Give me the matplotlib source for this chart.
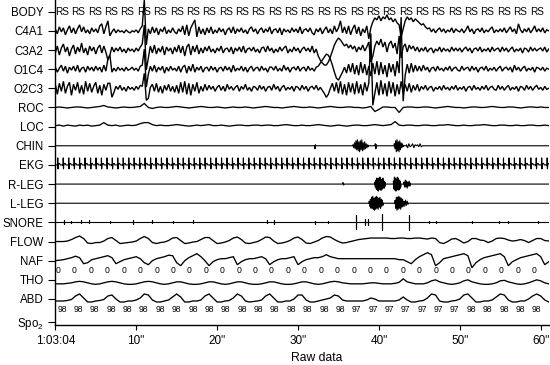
import numpy as np
import matplotlib
matplotlib.use("Agg")
import matplotlib.pyplot as plt

plt.rcParams['font.family'] = ['Liberation Sans', 'DejaVu Sans']
plt.rcParams['mathtext.fontset'] = 'custom'
plt.rcParams['mathtext.rm'] = 'Liberation Sans'

# ---------------- data ----------------
channels = ['BODY', 'C4A1', 'C3A2', 'O1C4', 'O2C3', 'ROC', 'LOC', 'CHIN', 'EKG',
            'R-LEG', 'L-LEG', 'SNORE', 'FLOW', 'NAF', 'THO', 'ABD']
x_ticks = [0, 10, 20, 30, 40, 50, 60]
x_ticklabels = ['1:03:04', '10"', '20"', '30"', '40"', '50"', '60"']

# EEG, sampled every 0.25 s, pixel deflection (up positive)
c4a1 = [2,-3,4,-1,3,-4,1,5,-2,3,-3,2,6,-1,4,-2,1,-3,3,-1,
        2,-2,5,7,-3,4,10,-5,-1,2,-2,1,-1,0,-2,1,-1,-2,0,-1,
        1,-2,2,5,31,-14,2,-3,4,-2,3,-4,2,-1,4,-3,1,-2,3,-1,
        -3,2,-1,5,-4,6,-5,3,7,11,-6,4,-3,2,-4,3,-2,4,-3,1,
        -2,3,-1,2,-4,1,3,-2,4,-3,2,-1,3,-2,1,-3,2,4,-1,2,
        -3,1,3,-2,2,-1,4,-3,1,2,-2,3,-4,2,-1,1,-2,3,-1,2,
        -2,4,-3,1,2,-1,3,-2,-4,2,-1,3,-3,1,4,-2,2,-3,5,-1,
        3,10,-2,4,-3,5,-4,2,6,-3,4,-5,2,-2,5,-8,3,9,13,11,
        15,10,14,12,16,11,13,9,12,8,6,-6,2,10,14,11,13,9,12,10,
        8,6,7,4,2,3,-1,2,-2,1,3,-1,2,-2,1,-1,3,-2,2,0,
        -1,2,-2,1,5,-1,2,-3,1,2,-1,3,-2,1,-1,2,4,-2,1,-1,
        2,-1,3,-2,1,4,-1,2,-3,7,1,-2,2,-1,3,-2,1,5,-1,2,
        -1,3,-2,1,0]
c3a2 = [-3,4,-5,2,6,-2,3,-6,1,5,-4,3,-2,7,-3,2,-5,4,-1,3,
        -4,2,5,-3,4,-2,-10,-5,3,-2,2,-1,3,-2,1,-3,2,-1,1,-2,
        2,-1,3,6,25,-20,-8,4,-3,5,-4,2,-2,4,-5,3,-1,2,-4,3,
        -2,5,-3,4,-6,3,6,-5,4,-2,5,-4,2,-3,3,-1,4,-2,1,-3,
        2,-1,4,-3,1,2,-2,3,-4,2,-1,3,-2,4,-3,1,2,-1,3,-2,
        1,-3,2,3,-2,4,-1,2,-3,1,-2,3,-1,2,4,-3,1,-2,3,-1,
        2,-3,1,3,-1,2,-2,4,-3,1,-6,-10,-13,-15,-15,-12,-7,-1,5,9,
        12,10,7,4,6,2,5,1,4,-2,3,0,5,-1,3,8,-12,-6,4,9,
        5,11,3,8,-2,6,9,2,7,-4,14,-8,3,6,-2,5,1,4,-1,3,
        -2,2,-1,3,-2,1,2,-3,1,-1,3,-2,2,-1,1,-2,3,-1,2,-1,
        2,-2,1,3,-1,2,-3,1,2,-1,3,-2,1,-1,2,-2,3,-1,1,2,
        -2,3,-1,2,-2,1,3,-2,1,-1,2,-3,2,1,-2,3,-1,2,-1,1,
        2,-1,3,-2,1]
o1c4 = [2,-3,1,4,-2,3,-4,2,-1,3,-2,4,-3,1,2,-3,3,-1,2,-2,
        3,-1,2,-3,4,-2,10,14,-3,1,-2,2,-1,1,-2,2,-1,0,2,-1,
        1,-2,3,4,20,-18,-5,3,-2,4,-3,2,-1,3,-4,2,-2,3,-1,1,
        -2,3,-3,2,4,-4,3,-2,5,-3,2,-1,3,-3,1,2,-2,3,-1,2,
        -3,1,2,-2,3,-1,2,-3,4,-2,1,-1,3,-2,2,-3,1,3,-2,1,
        2,-2,3,-1,1,-3,2,2,-1,3,-2,1,-2,4,-1,2,-3,1,2,-1,
        3,-2,1,2,-2,3,-1,1,-2,2,3,6,9,12,15,14,10,4,-3,-9,
        -11,-7,-3,2,-4,5,-3,6,-5,4,-6,7,-4,5,-6,3,-7,6,-5,8,
        -6,7,-5,4,-8,6,-3,5,-7,8,-4,52,-32,-6,5,-4,6,-3,4,-2,
        3,-2,4,-1,2,-3,1,2,-2,3,-1,1,-2,2,-1,3,-2,1,2,-1,
        -2,3,-1,1,2,-2,3,-1,2,-3,1,2,-1,3,-2,1,-1,2,-2,1,
        3,-2,1,2,-1,2,-3,4,-1,2,-2,1,3,-2,1,-1,2,-3,2,1,
        -1,2,-2,1,0]
o2c3 = [4,-6,5,-3,7,-5,2,6,-7,4,-2,6,-5,3,-6,7,-3,5,-4,2,
        6,-5,3,-7,4,-2,5,5,-9,-4,2,-1,3,-2,1,-3,2,-1,1,-2,
        2,-1,3,2,15,-12,-10,1,4,-3,5,-4,2,-5,3,-2,4,-3,2,-4,
        3,-5,6,-4,7,-6,5,-7,4,-3,6,-5,2,-3,4,-2,3,-1,2,-3,
        1,3,-2,2,-3,4,-1,2,-2,1,3,-3,2,-1,4,-2,1,-3,2,1,
        -2,3,-1,2,-3,1,2,-2,4,-1,2,-3,1,3,-2,1,-1,2,-3,2,
        1,-2,3,-1,2,-3,1,2,-1,3,-2,1,-2,-5,-9,-6,0,5,-3,6,
        -5,7,-6,4,-7,6,-4,5,-6,7,-5,4,-7,6,-3,5,55,-17,-5,6,
        -7,8,-6,5,-8,7,-5,6,-8,4,-6,7,-5,4,-3,5,-4,3,-2,4,
        -3,2,-1,3,-2,1,2,-3,1,-1,2,-2,3,-1,1,-2,2,-1,3,-2,
        1,-1,2,-3,1,2,-2,3,-1,1,-2,2,-1,3,-2,1,2,-1,-2,3,
        -1,2,-2,1,3,-2,1,-1,2,-3,2,1,-2,3,-1,2,-2,1,3,-1,
        1,-2,2,-1,0]

# slow channels, sampled every 0.5 s
roc = [0,0.5,0,-0.5,0,0.5,0.5,0,-0.5,0,
       0.5,1,2,0.5,0,-0.5,0,0.5,0,0,
       0.5,1,4,0,-1,0,0.5,0,0,0.5,
       1,0.5,0,-0.5,0,0.5,1,0.5,0,0,
       0.5,0,-0.5,0,0.5,0,0,0.5,0,-0.5,
       0,0.5,1,0.5,0,0,-0.5,0,0.5,1,
       0.5,0,0,0.5,0,-0.5,0,0.5,1,0.5,
       0,0,0.5,0.5,0,0,-0.5,0,1,-4,
       -2,0.5,0.5,0,0,-5,0,0.5,0.5,0,
       0,0.5,0.5,0,-0.5,0,0.5,1,0.5,0,
       0,-0.5,0,0.5,0.5,0,0,0.5,1,0.5,
       0,0,0.5,0.5,0,-0.5,0,0.5,0.5,0,
       0.5,0,0]
loc = [0,0.5,-0.5,0.5,0,-0.5,0.5,0,0.5,-0.5,
       0,0.5,3,0.5,0,0.5,-0.5,0,0.5,0,
       0.5,2,3,3,1,0,0.5,0,0,0.5,
       1,0.5,0,-0.5,0,0.5,0,0.5,1,0,
       0,0.5,0,-0.5,0,0.5,0.5,0,0,0.5,
       0.5,0,0.5,0.5,0,0,0.5,1,0.5,0,
       0,0.5,0,0,0.5,1,0.5,0,-0.5,0,
       0.5,0,-0.5,0,0.5,0.5,0,0,0.5,1,
       0.5,0,0.5,1,4,0.5,0,0.5,0.5,0,
       0,0.5,0.5,0,0,0.5,0.5,1,0.5,0,
       0,0.5,0,0,0.5,0.5,1,0.5,0,0,
       0.5,0.5,0,0,0.5,0,0,0.5,0.5,0,
       0,0.5,0]
flow = [0,0,0,0.5,2,4,5.5,3,-1.5,-2,
        -1,-1,0.5,3,4,1,-2,-1.5,-1,-0.5,
        0.5,3,5,3,-1,-2,-1,-0.5,1,3.5,
        4,1,-2,-1.5,-0.5,0,2,4,4,1,
        -2,-1.5,-0.5,1,3.5,4.5,2,-1.5,-2,-1,
        0,2,4.5,4,0.5,-2,-1.5,-0.5,1,3.5,
        4.5,2,-1.5,-2,-0.5,1,3.5,5,4.5,2,
        0,-1.5,-1,0,1,2,2.5,3,3.5,3.5,
        3.5,3.5,3.5,3,3,3.5,3.5,3,3,3.5,
        3.5,3,2.5,3.5,3,-1,-2,0,2.5,3,
        1,-1.5,0,3,3,1.5,1,-1,0.5,3,
        3.5,3,1.5,0.5,1,2,1,-1,1,3,
        3,1,0.5]
naf = [0,0.5,1,2,3,4.5,3,-3,-2,1,
       2,3,4,5,3,-3,-1,1,2,3,
       4,2,-2,-4,0,2,3,4,5.5,5,
       -2,-5,0,3,5,7,4,0,-5,-1,
       1,2,2,3,4,-4,-1,1,2,2,
       3,4,2,-4,-1,1,2,2,3,4,
       -4,-1,1,2,3,3,4,6,4,3,
       2,2,2,2,2,2,2,2,2,2,
       2,2,2,2,2,1,1,-1,-3,1,
       4,6,8,6,-5,-2,2,3,4,5,
       6,7,5,-7,-2,1,3,4,5,6,
       7,4,-5,-1,1,3,4,5,6,7,
       4,-4,-1]
tho = [-2,-2,-2,-1.5,-1,0,0.5,0,-1,-2,
       -2.5,-2,-1,0,0.5,0,-1,-2,-2.5,-2.5,
       -2,-1,0,0.5,0,-1,-2,-2.5,-2,-1,
       0,0,-1,-2,-2.5,-2.5,-2,-1,0,0,
       -1,-2,-2.5,-2,-1,0,0,-1,-2,-2.5,
       -2.5,-2,-1,0,0,-1,-2,-2.5,-2.5,-2,
       -1,0,0,-1,-2,-2.5,-2,-1,0,0.5,
       0,-1,-1.5,-2,-2,-2,-2,-1.5,-1,-1,
       -1.5,-2,-2,-2,-1.5,-0.5,3,0,-1,-2,
       -2,-2,-1,1,2,0,-1,-2,-2.5,-2,
       -1,1,2,0,-1,-2,-2.5,-2.5,-2,-1,
       1,1.5,0,-1,-2,-2.5,-2,-1,0.5,2,
       1,-1,-2]
abd = [0,0,0,0.5,1.5,5,7,3,-1,-1,
       0,0.5,1.5,5,6,2,-1,-1,0,0,
       1,3,7,6,1,-1,-1,0,1,4,
       7,4,-1,-1,0,0,1,5,7,3,
       -1,-1,0,0.5,3,7,5,0,-1,-0.5,
       0,1,5,7,3,-1,-1,0,0,2,
       6,6,1,-1,-1,0,1,2,3,6,
       5,1,0,0,0,0,0,1,3,2,
       0,0,0,0,0,1,4,1,-1,-1,
       0,0.5,3,7,6,0,-1,-1,0,0.5,
       2,6,7,3,-1,-1,0,0,1,4,
       7,6,1,-1,-1,0,0,2,5,7,
       5,1,-1]

# EKG beat times (s)
ekg_beats = [0.3,0.98,1.66,2.33,3.0,3.68,4.36,5.03,5.7,6.38,7.05,7.72,8.4,9.08,9.75,
             10.42,11.1,11.78,12.45,13.12,13.8,14.48,15.15,15.82,16.5,17.18,17.85,18.52,
             19.2,19.88,20.55,21.22,21.9,22.58,23.25,23.92,24.6,25.28,25.95,26.62,27.3,
             27.98,28.65,29.32,30.0,30.68,31.35,32.02,32.7,33.38,34.05,34.72,35.4,36.05,
             36.7,37.35,38.0,38.65,39.3,39.95,40.6,41.26,41.92,42.58,43.25,43.92,44.6,
             45.28,45.95,46.62,47.3,47.98,48.65,49.32,50.0,50.68,51.35,52.02,52.7,53.38,
             54.05,54.72,55.4,56.08,56.75,57.42,58.1,58.78,59.45,60.12,60.8]

# EMG bursts: (start s, end s, deflections px)
chin_bursts = [(32.05, 32.2, [0, -3, 1, 0]),
               (36.8, 38.7, [1,-2,3,-3,5,-4,6,-5,4,-6,5,-4,6,-5,3,-4,4,-3,2,-2,1,-1]),
               (39.55, 39.7, [2, -3, 1]),
               (41.9, 43.0, [2,-3,5,-6,6,-5,4,-6,5,-4,3,-2,2,-1]),
               (43.4, 45.4, [1,-2,2,-1,0,2,-2,1,0,1,-1,2,-1,0])]
rleg_bursts = [(35.55, 35.65, [1.5, -1]),
               (39.5, 40.8, [2,-3,4,-5,6,-6,5,-7,6,-5,7,-6,5,-6,4,-5,6,-4,3,-4,2,-2]),
               (41.8, 42.7, [3,-5,7,-6,6,-7,5,-6,7,-5,6,-6,4,-5,3,-3]),
               (43.1, 43.9, [2,-3,4,-3,3,-4,2,-2,3,-2,1])]
lleg_bursts = [(38.8, 40.5, [2,-3,4,-5,6,-5,7,-6,5,-7,6,-6,7,-5,6,-6,5,-4,6,-5,4,-3,3,-2]),
               (42.0, 43.0, [3,-5,6,-7,6,-6,7,-5,6,-6,5,-4,4,-3]),
               (43.1, 43.6, [2,-3,3,-2,2,-1])]

# SNORE ticks
snore_t = [1.1,1.9,3.2,4.2,6.8,9.6,11.9,14.5,17.0,26.2,27.0,32.1,33.7,
           37.2,38.3,38.6,40.4,43.7,46.2,47.1,51.5,54.8,55.9,59.7]
snore_up = [2,1,2,2,1,2,2,1,2,2,2,1,1,7,3,3,8,7,1,1,1,1,1,1]
snore_dn = [-2,-1,-1,-1,-1,-2,-1,-1,-1,-1,-2,-2,-1,-7,-3,-3,-8,-8,-1,-1,-1,-1,-1,-1]

# epoch annotations
body_labels = ['RS'] * 30
tho_labels = ['0'] * 30
spo2_labels = ['98','98','98','98','98','98','98','98','98','98',
               '98','98','98','98','98','98','98','98','97','97',
               '97','97','97','97','97','98','98','98','98','98']

# ---------------- layout ----------------
PX = 19.15            # pixels per channel step
T_END = 61.0
pos = {name: len(channels) - i for i, name in enumerate(channels)}  # BODY=16 ... ABD=1
base_px = {'LOC': 1.0, 'THO': -2.0, 'ABD': -2.0}

fig = plt.figure(figsize=(5.5, 3.65), dpi=100)
ax = fig.add_axes([55.3 / 550, 40 / 365, (T_END * 8.09) / 550, 325 / 365])

def trace(name, vals, dt, lw):
    v = np.asarray(vals, dtype=float)
    t = np.arange(len(v)) * dt
    y = pos[name] + (v + base_px.get(name, 0.0)) / PX
    ax.plot(t, y, color='black', lw=lw, solid_joinstyle='miter')

for name, vals in [('C4A1', c4a1), ('C3A2', c3a2), ('O1C4', o1c4), ('O2C3', o2c3)]:
    trace(name, vals, 0.25, 1.0)
for name, vals in [('ROC', roc), ('LOC', loc), ('FLOW', flow), ('NAF', naf),
                   ('THO', tho), ('ABD', abd)]:
    trace(name, vals, 0.5, 0.95)

# EKG from beat times with a fixed beat shape
shape_dt = [-0.06, -0.02, 0.0, 0.03, 0.07, 0.16, 0.24, 0.32]
shape_v = [0, -1, 7, -4, 0, 1.5, 1.5, 0]
et, ev = [0.0], [0.0]
for b in ekg_beats:
    et += [b + d for d in shape_dt]
    ev += shape_v
ax.plot(et, pos['EKG'] + np.array(ev) / PX, color='black', lw=0.8)

def emg(name, bursts):
    tt, vv = [0.0], [0.0]
    for s, e, amps in bursts:
        tt += [s - 0.01]
        vv += [0]
        tt += list(np.linspace(s, e, len(amps)))
        vv += amps
        tt += [e + 0.01]
        vv += [0]
    tt += [T_END]
    vv += [0]
    ax.plot(tt, pos[name] + np.array(vv, dtype=float) / PX, color='black', lw=0.8)

emg('CHIN', chin_bursts)
emg('R-LEG', rleg_bursts)
emg('L-LEG', lleg_bursts)

st, sv = [0.0], [0.0]
for t0, u, d in zip(snore_t, snore_up, snore_dn):
    st += [t0, t0, t0, t0]
    sv += [0, u, d, 0]
st += [T_END]
sv += [0]
ax.plot(st, pos['SNORE'] + np.array(sv, dtype=float) / PX, color='black', lw=0.8)

# annotations
rs_t = np.linspace(0.83, 59.5, len(body_labels))
for t0, s in zip(rs_t, body_labels):
    ax.text(t0, pos['BODY'], s, ha='center', va='center', fontsize=7.2)
z_t = np.linspace(0.35, 59.2, len(tho_labels))
for t0, s in zip(z_t, tho_labels):
    ax.text(t0, pos['THO'] + 9 / PX, s, ha='center', va='center', fontsize=6.2)
for t0, s in zip(rs_t, spo2_labels):
    ax.text(t0, pos['ABD'] - 11 / PX, s, ha='center', va='center', fontsize=6.2)

# axes styling
ax.set_xlim(0, T_END)
ax.set_ylim(pos['ABD'] - 26 / PX, pos['BODY'] + 11.7 / PX)
yt = [pos[c] for c in channels] + [pos['ABD'] - 23 / PX]
ax.set_yticks(yt)
ax.set_yticklabels(channels + ['Spo$_\\mathregular{2}$'], fontsize=8.3)
ax.set_xticks(x_ticks)
ax.set_xticklabels(x_ticklabels, fontsize=8.5)
ax.tick_params(axis='y', length=5, width=0.8, pad=3.5)
ax.tick_params(axis='x', length=3.5, width=0.8, pad=4)
for s in ['top', 'right']:
    ax.spines[s].set_visible(False)
ax.spines['left'].set_linewidth(1.0)
ax.spines['bottom'].set_linewidth(1.0)
ax.text((317 - 55.3) / (T_END * 8.09), -33 / 325, 'Raw data', transform=ax.transAxes,
        ha='center', va='center', fontsize=8.7)

fig.savefig('out.png', dpi=100)
